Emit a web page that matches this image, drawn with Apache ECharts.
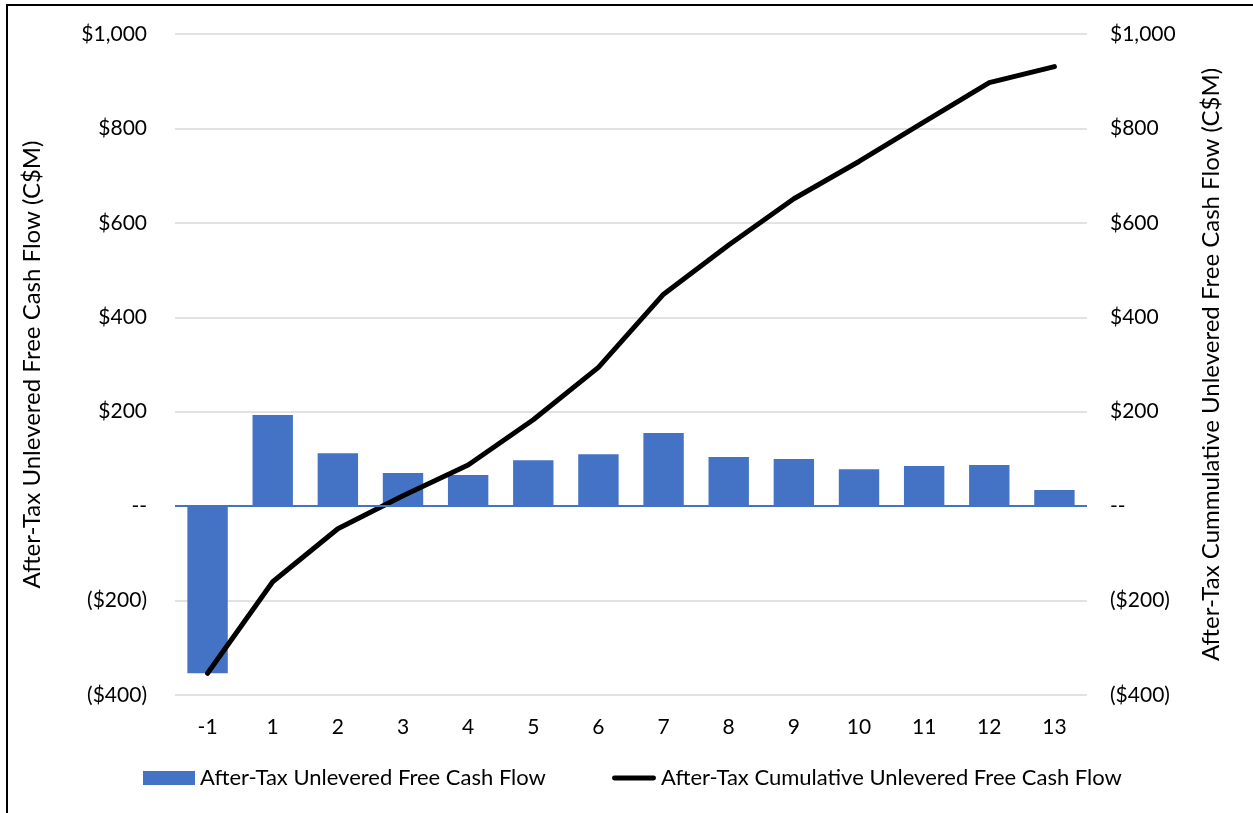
<!DOCTYPE html>
<html>
<head>
<meta charset="utf-8">
<script src="https://cdn.jsdelivr.net/npm/echarts@6/dist/echarts.min.js"></script>
<style>
  html, body { margin: 0; padding: 0; background: #fff; }
  #chart { width: 1253px; height: 813px; }
</style>
</head>
<body>
<div id="chart"></div>
<script>
// periods (years)
var years = ['-1', '1', '2', '3', '4', '5', '6', '7', '8', '9', '10', '11', '12', '13'];
// annual after-tax unlevered FCF, C$M
var annualFcf = [-354, 193, 112, 70, 66, 97, 110, 155, 104, 100, 78, 85, 87, 34];
// cumulative after-tax unlevered FCF, C$M
var cumulativeFcf = [-354, -160, -48, 22, 87, 183, 294, 449, 553, 651, 730, 814, 897, 931];

var barColor = '#4472C4';
var fontFam = 'Lato, "Open Sans", sans-serif';

function moneyLabel(v) {
    if (v === 0) return '--';
    var s = '$' + Math.abs(v).toLocaleString('en-US');
    return v < 0 ? '(' + s + ')' : s;
}

var chart = echarts.init(document.getElementById('chart'));

var yCommon = {
    type: 'value',
    min: -400,
    max: 1000,
    interval: 200,
    axisLine: { show: false },
    axisTick: { show: false },
    nameLocation: 'middle',
    nameRotate: 90,
    nameTextStyle: { fontSize: 24, color: '#000', fontFamily: fontFam },
    axisLabel: { fontSize: 21, color: '#000', fontFamily: fontFam, formatter: moneyLabel }
};
var legendText = { fontSize: 22, color: '#000', fontFamily: fontFam };

chart.setOption({
    animation: false,
    textStyle: { fontFamily: fontFam },
    graphic: [{
        type: 'rect',
        shape: { x: 7, y: 5, width: 1300, height: 900 },
        style: { fill: 'none', stroke: '#000', lineWidth: 2 },
        silent: true
    }],
    grid: { left: 175, right: 166, top: 34, bottom: 118 },
    legend: [{
        bottom: 19,
        left: 138,
        itemWidth: 52,
        itemHeight: 14,
        textStyle: legendText,
        data: [{ name: 'After-Tax Unlevered Free Cash Flow', icon: 'rect' }]
    }, {
        bottom: 19,
        left: 607,
        itemWidth: 44,
        itemHeight: 14,
        textStyle: legendText,
        data: [{ name: 'After-Tax Cumulative Unlevered Free Cash Flow', icon: 'path://M2,0 L42,0 A2,2 0 0 1 42,5 L2,5 A2,2 0 0 1 2,0 Z' }]
    }],
    xAxis: {
        type: 'category',
        data: years,
        axisLine: { show: false },
        axisTick: { show: false },
        axisLabel: { fontSize: 21, color: '#000', margin: 22, fontFamily: fontFam }
    },
    yAxis: [
        Object.assign({}, yCommon, {
            position: 'left',
            name: 'After-Tax Unlevered Free Cash Flow (C$M)',
            nameGap: 131,
            axisLabel: Object.assign({}, yCommon.axisLabel, { margin: 28 }),
            splitLine: { lineStyle: { color: '#D9D9D9', width: 1.5 } }
        }),
        Object.assign({}, yCommon, {
            position: 'right',
            name: 'After-Tax Cummulative Unlevered Free Cash Flow (C$M)',
            nameGap: 112,
            axisLabel: Object.assign({}, yCommon.axisLabel, { margin: 23 }),
            splitLine: { show: false }
        })
    ],
    series: [
        {
            name: 'After-Tax Unlevered Free Cash Flow',
            type: 'bar',
            data: annualFcf,
            barWidth: '62%',
            itemStyle: { color: barColor },
            markLine: {
                silent: true,
                symbol: 'none',
                label: { show: false },
                lineStyle: { color: barColor, width: 2, type: 'solid' },
                data: [{ yAxis: 0 }]
            }
        },
        {
            name: 'After-Tax Cumulative Unlevered Free Cash Flow',
            type: 'line',
            yAxisIndex: 1,
            data: cumulativeFcf,
            symbol: 'none',
            lineStyle: { color: '#000', width: 5, cap: 'round', join: 'round' },
            itemStyle: { color: '#000' }
        }
    ]
});
</script>
</body>
</html>
